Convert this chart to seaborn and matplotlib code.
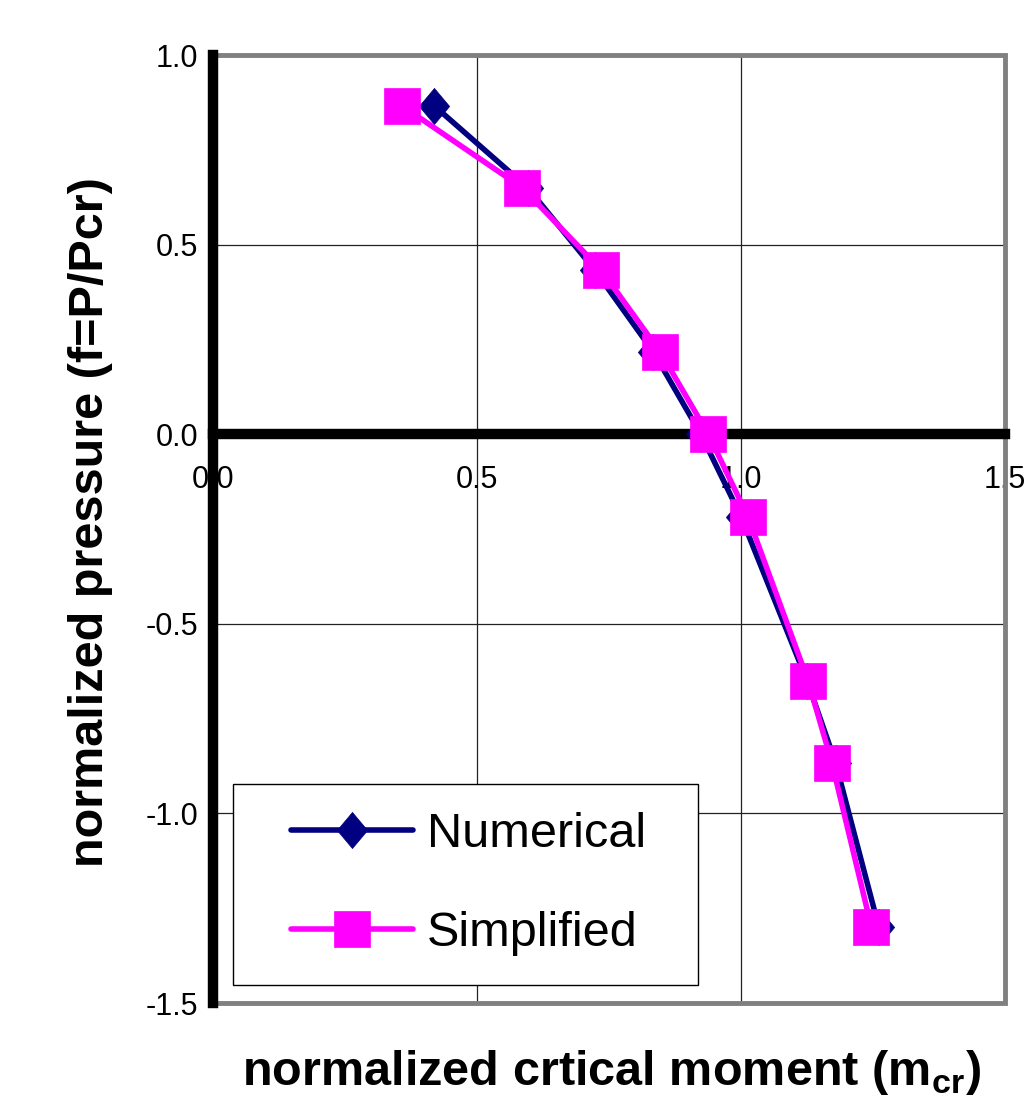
import matplotlib
matplotlib.use("Agg")
import matplotlib.pyplot as plt
from matplotlib.patches import Rectangle
import seaborn as sns
import pandas as pd

# normalized pressure f = P/Pcr (same levels for both series)
pressure = [0.866, 0.650, 0.433, 0.217, 0.0, -0.217, -0.650, -0.866, -1.300]
# normalized critical moment
moment_numerical = [0.419, 0.596, 0.723, 0.834, 0.924, 1.000, 1.125, 1.179, 1.261]
moment_simplified = [0.358, 0.586, 0.735, 0.847, 0.938, 1.013, 1.127, 1.172, 1.247]

x_ticks = [0.0, 0.5, 1.0, 1.5]
y_ticks = [-1.5, -1.0, -0.5, 0.0, 0.5, 1.0]

sns.set_style("white")
plt.rcParams["font.family"] = ["Liberation Sans", "DejaVu Sans"]
plt.rcParams["axes.unicode_minus"] = False
for k in ["text.color", "axes.labelcolor", "xtick.color", "ytick.color"]:
    plt.rcParams[k] = "black"

df_num = pd.DataFrame({"m": moment_numerical, "f": pressure})
df_simp = pd.DataFrame({"m": moment_simplified, "f": pressure})

fig = plt.figure(figsize=(10.29, 10.98), dpi=100)
ax = fig.add_axes([0.2070, 0.0865, 0.7697, 0.8634])

diamond = [(0, 1), (0.84, 0), (0, -1), (-0.84, 0), (0, 1)]
sns.lineplot(data=df_num, x="m", y="f", ax=ax, sort=False, estimator=None,
             color="#000080", lw=4, marker=diamond, markersize=26,
             markeredgecolor="#000080", markeredgewidth=0.5,
             label="Numerical", zorder=3)
sns.lineplot(data=df_simp, x="m", y="f", ax=ax, sort=False, estimator=None,
             color="#FF00FF", lw=4, marker="s", markersize=26,
             markeredgecolor="#FF00FF", markeredgewidth=0.5,
             label="Simplified", zorder=4)

ax.set_xlim(0, 1.5)
ax.set_ylim(-1.5, 1.0)
ax.set_xticks(x_ticks)
ax.set_yticks(y_ticks)
ax.set_xticklabels([f"{v:.1f}" for v in x_ticks])
ax.set_yticklabels([f"{v:.1f}" for v in y_ticks])

ax.grid(True, color="#222222", lw=0.9)
ax.set_axisbelow(True)

# plot-area border (gray), axes through origin (thick black)
ax.add_patch(Rectangle((0, 0), 1, 1, transform=ax.transAxes, fill=False,
                       edgecolor="#808080", lw=3.5, clip_on=False, zorder=2.4))
for s in ["top", "right"]:
    ax.spines[s].set_visible(False)
ax.spines["bottom"].set_position(("data", 0))
for s in ["left", "bottom"]:
    ax.spines[s].set_color("black")
    ax.spines[s].set_linewidth(7.5)

ax.tick_params(axis="both", direction="out", length=6.5, width=7, color="black",
               labelsize=22, labelcolor="black")
ax.tick_params(axis="x", pad=16)
ax.tick_params(axis="y", pad=4)

ax.set_xlabel("normalized crtical moment (m$_{\\mathregular{cr}}$)",
              fontsize=35, fontweight="bold", va="center")
ax.xaxis.set_label_coords(0.5025, -0.073)
ax.set_ylabel("normalized pressure (f=P/Pcr)", fontsize=35, fontweight="bold", va="center")
ax.yaxis.set_label_coords(-0.155, 0.507)

# legend with its own box
ax.get_legend().remove()
handles, labels = ax.get_legend_handles_labels()
box = Rectangle((233 / 1029, 1 - 985 / 1098), (698 - 233) / 1029, (985 - 784) / 1098,
                transform=fig.transFigure, facecolor="white", edgecolor="black",
                lw=1, zorder=5)
fig.add_artist(box)
leg = fig.legend(handles, labels, loc="center left",
                 bbox_to_anchor=(291 / 1029, 1 - 884 / 1098), frameon=False,
                 borderpad=0, borderaxespad=0, handlelength=2.5, handletextpad=0.29,
                 labelspacing=1.12, prop={"size": 35})
leg.set_zorder(6)

fig.savefig("out.png", dpi=100)
